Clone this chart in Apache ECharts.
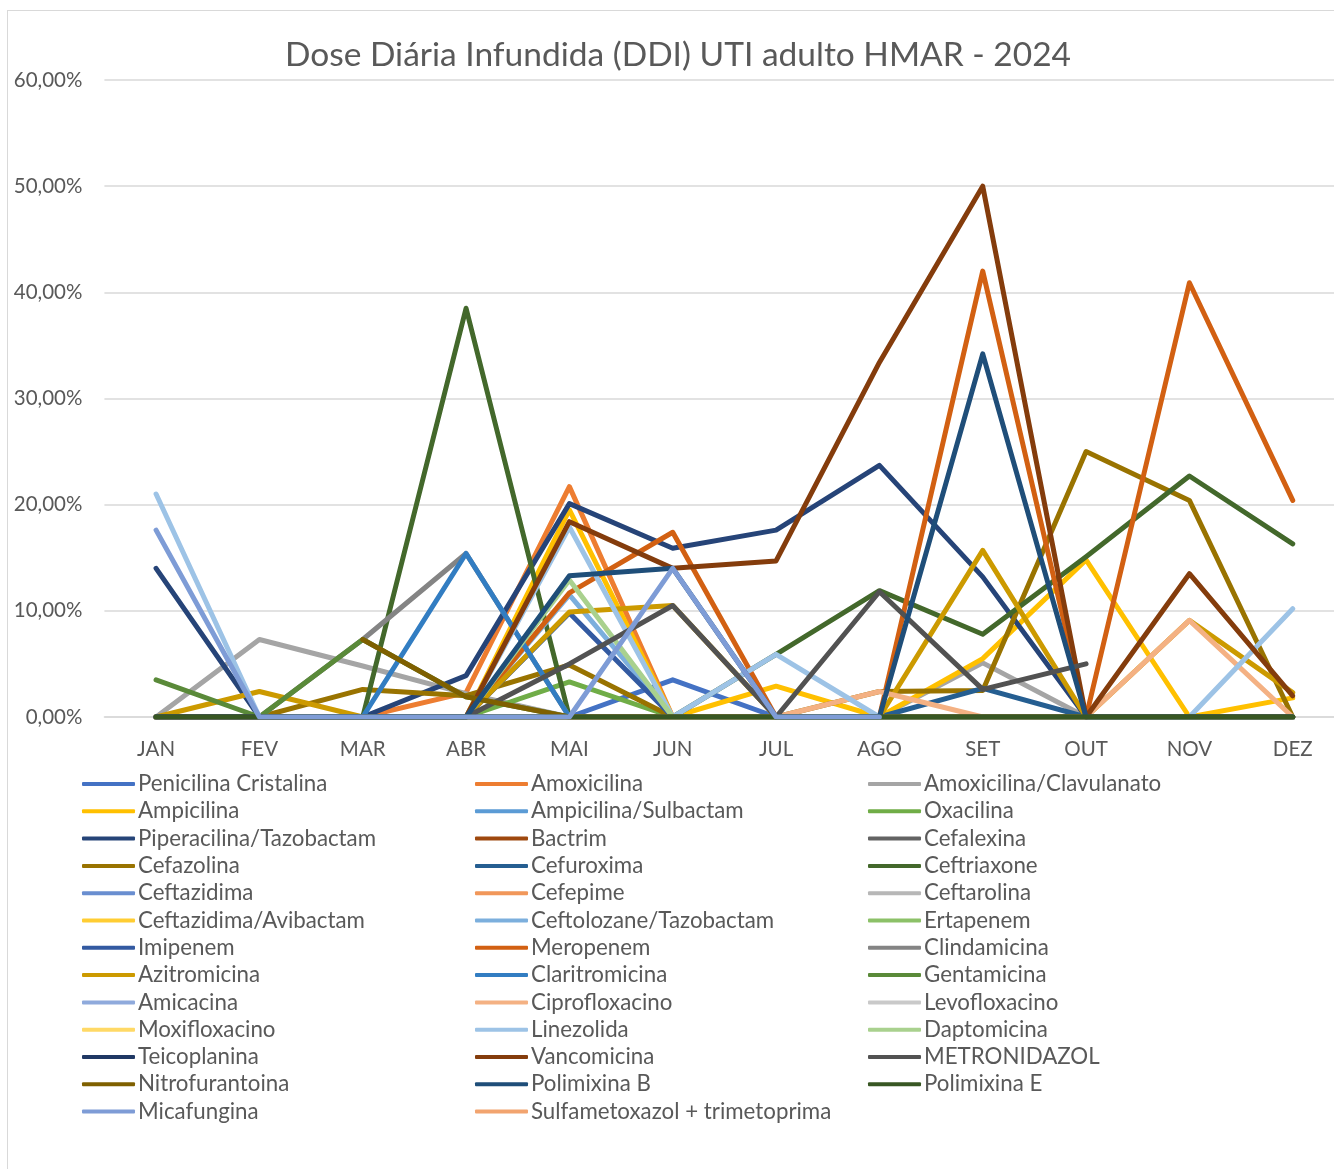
<!DOCTYPE html>
<html>
<head>
<meta charset="utf-8">
<title>DDI UTI adulto HMAR 2024</title>
<script src="https://cdn.jsdelivr.net/npm/echarts@6/dist/echarts.min.js"></script>
<style>
html, body { margin: 0; padding: 0; background: #fff; overflow: hidden; width: 1334px; height: 1169px; }
#chart {
  position: absolute; left: 7px; top: 10px;
  width: 1340px; height: 1165px;
  border-left: 1px solid #d9d9d9; border-top: 1px solid #d9d9d9;
}
</style>
</head>
<body>
<div id="chart"></div>
<script>
const months = ['JAN', 'FEV', 'MAR', 'ABR', 'MAI', 'JUN', 'JUL', 'AGO', 'SET', 'OUT', 'NOV', 'DEZ'];
const yTicks = [0, 10, 20, 30, 40, 50, 60];

// valores em % (null = sem dado)
const penicilinaCristalina = [0, 0, 0, 0, 0, 3.5, 0, 0, 0, 0, 0, 0];
const amoxicilina = [0, 0, 0, 2.3, 21.7, 0, 0, 0, 0, 0, 0, 0];
const amoxicilinaClavulanato = [0, 7.3, 4.8, 2.2, 0, 0, 0, 0, 5.1, 0, 0, 0];
const ampicilina = [0, 0, 0, 0, 19.5, 0, 2.9, 0, 5.5, 14.8, 0, 1.8];
const ampicilinaSulbactam = [0, 0, 0, 0, 0, 0, 0, 0, 0, 0, 0, 0];
const oxacilina = [0, 0, 0, 0, 3.3, 0, 0, 0, 0, 0, 0, 0];
const piperacilinaTazobactam = [14.0, 0, 0, 3.9, 20.1, 15.9, 17.6, 23.7, 13.2, 0, 0, 0];
const bactrim = [0, 0, 0, 0, 0, 0, 0, 0, 0, 0, 0, 0];
const cefalexina = [0, 0, 0, 0, 0, 0, 0, 0, 0, 0, 0, 0];
const cefazolina = [0, 0, 2.6, 2.0, 4.9, 0, 0, 2.4, 2.5, 25.0, 20.4, 0];
const cefuroxima = [0, 0, 0, 0, 0, 0, 0, 0, 2.7, 0, 0, 0];
const ceftriaxone = [0, 0, 0, 38.5, 0, 0, 5.9, 11.9, 7.8, 15.1, 22.7, 16.3];
const ceftazidima = [0, 0, 0, 0, 0, 0, 0, 0, 0, 0, 0, 0];
const cefepime = [0, 0, 0, 0, 0, 0, 0, 0, 0, 0, 0, 0];
const ceftarolina = [0, 0, 0, 0, 0, 0, 0, 0, 0, 0, 0, 0];
const ceftazidimaAvibactam = [0, 0, 0, 0, 0, 0, 0, 0, 0, 0, 0, 0];
const ceftolozaneTazobactam = [0, 0, 0, 0, 11.5, 0, 0, 0, 0, 0, 0, 0];
const ertapenem = [0, 0, 0, 0, 0, 0, 0, 0, 0, 0, 0, 0];
const imipenem = [0, 0, 0, 0, 9.8, 0, 0, 0, 0, 0, 0, 0];
const meropenem = [0, 0, 0, 0, 11.7, 17.4, 0, 0, 42.0, 0, 40.9, 20.4];
const clindamicina = [0, 0, 7.3, 15.4, 0, 0, 0, 0, 0, 0, 0, 0];
const azitromicina = [0, 2.4, 0, 0, 9.9, 10.5, 0, 0, 15.7, 0, 9.1, 2.3];
const claritromicina = [0, 0, 0, 15.4, 0, 0, 0, 0, 0, 0, 0, 0];
const gentamicina = [3.5, 0, 7.3, 1.9, 0, 0, 0, 0, 0, 0, 0, 0];
const amicacina = [0, 0, 0, 0, 0, 0, 0, 0, 0, 0, 0, 0];
const ciprofloxacino = [0, 0, 0, 0, 0, 0, 0, 2.4, 0, 0, 9.1, 0];
const levofloxacino = [0, 0, 0, 0, 0, 0, 0, 0, 0, 0, 0, 0];
const moxifloxacino = [0, 0, 0, 0, 0, 0, 0, 0, 0, 0, 0, 0];
const linezolida = [21.0, 0, 0, 0, 17.9, 0, 5.9, 0, 0, 0, 0, 10.2];
const daptomicina = [0, 0, 0, 0, 12.9, 0, 0, 0, 0, 0, 0, 0];
const teicoplanina = [0, 0, 0, 0, 0, 0, 0, 0, 0, 0, 0, 0];
const vancomicina = [0, 0, 0, 0, 18.4, 14.0, 14.7, 33.4, 50.0, 0, 13.5, 2.0];
const metronidazol = [0, 0, 0, 0, 5.0, 10.5, 0, 11.8, 2.6, 5.0, null, null];
const nitrofurantoina = [null, null, 7.3, 1.9, 0, 0, 0, 0, 0, 0, 0, 0];
const polimixinaB = [0, 0, 0, 0, 13.3, 14.0, 0, 0, 34.2, 0, 0, 0];
const polimixinaE = [0, 0, 0, 0, 0, 0, 0, 0, 0, 0, 0, 0];
const micafungina = [17.6, 0, 0, 0, 0, 14.0, 0, 0, null, null, null, null];
const sulfametoxazolTrimetoprima = [null, null, null, null, null, null, null, null, null, null, null, null];

const seriesNames = [
  'Penicilina Cristalina', 'Amoxicilina', 'Amoxicilina/Clavulanato',
  'Ampicilina', 'Ampicilina/Sulbactam', 'Oxacilina',
  'Piperacilina/Tazobactam', 'Bactrim', 'Cefalexina',
  'Cefazolina', 'Cefuroxima', 'Ceftriaxone',
  'Ceftazidima', 'Cefepime', 'Ceftarolina',
  'Ceftazidima/Avibactam', 'Ceftolozane/Tazobactam', 'Ertapenem',
  'Imipenem', 'Meropenem', 'Clindamicina',
  'Azitromicina', 'Claritromicina', 'Gentamicina',
  'Amicacina', 'Ciprofloxacino', 'Levofloxacino',
  'Moxifloxacino', 'Linezolida', 'Daptomicina',
  'Teicoplanina', 'Vancomicina', 'METRONIDAZOL',
  'Nitrofurantoina', 'Polimixina B', 'Polimixina E',
  'Micafungina', 'Sulfametoxazol + trimetoprima'
];

const seriesValues = [
  penicilinaCristalina, amoxicilina, amoxicilinaClavulanato,
  ampicilina, ampicilinaSulbactam, oxacilina,
  piperacilinaTazobactam, bactrim, cefalexina,
  cefazolina, cefuroxima, ceftriaxone,
  ceftazidima, cefepime, ceftarolina,
  ceftazidimaAvibactam, ceftolozaneTazobactam, ertapenem,
  imipenem, meropenem, clindamicina,
  azitromicina, claritromicina, gentamicina,
  amicacina, ciprofloxacino, levofloxacino,
  moxifloxacino, linezolida, daptomicina,
  teicoplanina, vancomicina, metronidazol,
  nitrofurantoina, polimixinaB, polimixinaE,
  micafungina, sulfametoxazolTrimetoprima
];

const palette = [
  '#4472C4', '#ED7D31', '#A5A5A5', '#FFC000', '#5B9BD5', '#70AD47',
  '#264478', '#9E480E', '#636363', '#997300', '#255E91', '#43682B',
  '#698ED0', '#F1975A', '#B7B7B7', '#FFCD33', '#7CAFDD', '#8CC168',
  '#335AA1', '#D26012', '#848484', '#CC9A00', '#327DC2', '#5A8A39',
  '#8FAADC', '#F4B183', '#C9C9C9', '#FFD966', '#9DC3E6', '#A9D18E',
  '#203864', '#843C0C', '#525252', '#7F6000', '#1F4E79', '#385723',
  '#7E9CD6', '#F2A46F'
];

const textColor = '#595959';
const fontFamily = 'Lato, "Open Sans", sans-serif';
const fmtPct = (v) => `${v.toFixed(2).replace('.', ',')}%`;

// três colunas de legenda, preenchidas linha a linha como no Excel
const legendCols = [74, 467, 860].map((left, col) => ({
  orient: 'vertical',
  left,
  top: 762,
  padding: 0,
  itemWidth: 53,
  itemHeight: 4,
  itemGap: 5.3,
  icon: 'roundRect',
  textStyle: { color: textColor, fontSize: 22.3, fontFamily, lineHeight: 20, padding: [0, 0, 0, -2] },
  data: seriesNames.filter((_, i) => i % 3 === col)
}));

const chart = echarts.init(document.getElementById('chart'), null, { renderer: 'canvas' });

chart.setOption({
  animation: false,
  color: palette,
  title: {
    text: 'Dose Diária Infundida (DDI) UTI adulto HMAR - 2024',
    left: 'center',
    top: 22,
    textStyle: { color: textColor, fontSize: 33.5, fontWeight: 'normal', fontFamily }
  },
  legend: legendCols,
  grid: { left: 96.4, right: 3.6, top: 69, bottom: 459, containLabel: false },
  xAxis: {
    type: 'category',
    data: months,
    boundaryGap: true,
    axisLine: { show: true, lineStyle: { color: '#d9d9d9', width: 1.5 } },
    axisTick: { show: false },
    axisLabel: { color: textColor, fontSize: 20.5, fontFamily, margin: 22 }
  },
  yAxis: {
    type: 'value',
    min: yTicks[0],
    max: yTicks[yTicks.length - 1],
    interval: 10,
    axisLine: { show: false },
    axisTick: { show: false },
    axisLabel: { color: textColor, fontSize: 20.5, fontFamily, margin: 22, formatter: fmtPct },
    splitLine: { lineStyle: { color: '#d9d9d9', width: 1.5 } }
  },
  series: seriesNames.map((name, i) => ({
    name,
    type: 'line',
    data: seriesValues[i],
    symbol: 'none',
    connectNulls: false,
    lineStyle: { width: 5, cap: 'round', join: 'round' },
    emphasis: { disabled: true }
  }))
});
</script>
</body>
</html>
